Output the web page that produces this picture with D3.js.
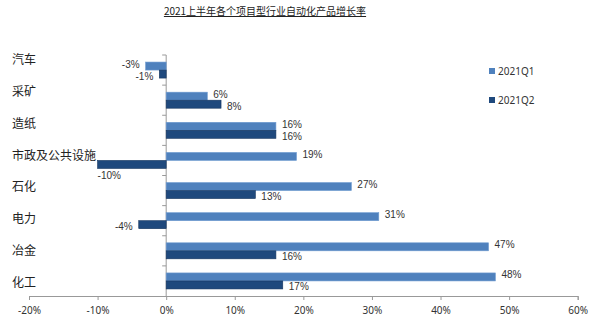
<!DOCTYPE html>
<html><head><meta charset="utf-8">
<script src="https://cdn.jsdelivr.net/npm/d3@7"></script>
<style>body{margin:0;background:#fff}svg{display:block}text{font-family:"Noto Sans CJK SC","Noto Sans",sans-serif}</style>
</head><body><svg id="c" width="600" height="325"></svg>
<script>
const title = "2021上半年各个项目型行业自动化产品增长率";
const categories = ["汽车","采矿","造纸","市政及公共设施","石化","电力","冶金","化工"];
const seriesNames = ["2021Q1","2021Q2"];
const q1 = [-3, 6, 16, 19, 27, 31, 47, 48];
const q2 = [-1, 8, 16, -10, 13, -4, 16, 17];
const xTicks = [-20,-10,0,10,20,30,40,50,60];
const colors = ["#4F81BD","#1F497D"];

const svg = d3.select("#c");
const x = d3.scaleLinear().domain([-20,60]).range([29,577.7]);
const y = d3.scaleBand().domain(categories).range([55,296]).padding(0);
const yi = d3.scaleBand().domain(seriesNames).range([0,y.bandwidth()]).paddingInner(0).paddingOuter(0.88);
const yLab = d3.scalePoint().domain(categories).range([60,282.5]);

svg.append("text").attr("x",265).attr("y",15).attr("text-anchor","middle")
  .attr("font-size",10).attr("fill","#222").style("text-decoration","underline").text(title);

// bottom axis
const xa = svg.append("g").attr("transform","translate(0,296)")
  .call(d3.axisBottom(x).tickValues(xTicks).tickSize(4).tickFormat(d=>d+"%"));
xa.select(".domain").attr("stroke","#999");
xa.selectAll(".tick line").attr("stroke","#999");
xa.selectAll(".tick text").attr("font-size",10).attr("fill","#333").attr("dy","1.1em")
  .style("font-family","'Noto Sans',sans-serif");

// vertical axis at 0
const ya = svg.append("g").attr("transform",`translate(${x(0)},0)`);
ya.append("line").attr("y1",55).attr("y2",296).attr("stroke","#999");
ya.selectAll("line.t").data(categories).join("line").attr("class","t")
  .attr("x1",-4).attr("x2",0).attr("y1",d=>y(d)).attr("y2",d=>y(d)).attr("stroke","#999");

// category labels
svg.selectAll("text.cat").data(categories).join("text").attr("class","cat")
  .attr("x",12).attr("y",d=>yLab(d)).attr("dy","0.35em").attr("font-size",12).attr("fill","#222").text(d=>d);

const series = [q1,q2];
series.forEach((vals,si)=>{
  const name = seriesNames[si];
  const data = categories.map((c,i)=>({c,v:vals[i]}));
  svg.selectAll(null).data(data).join("rect")
    .attr("x",d=>x(Math.min(0,d.v))).attr("width",d=>Math.abs(x(d.v)-x(0)))
    .attr("y",d=>y(d.c)+yi(name)).attr("height",yi.bandwidth())
    .attr("fill",colors[si]).attr("stroke",si===0?"#6f9bd0":"#16365f").attr("stroke-width",0.6);
  const nudge = si===0 ? -2 : 2;
  svg.selectAll(null).data(data).join("text")
    .attr("x",d=> d.v>=0 ? x(d.v)+6 : (d.v<=-10 ? x(d.v) : x(d.v)-6))
    .attr("y",d=> y(d.c)+yi(name)+yi.bandwidth()/2 + (d.v<=-10 ? 11 : nudge))
    .attr("dy","0.35em")
    .attr("text-anchor",d=> d.v>=0 || d.v<=-10 ? "start" : "end")
    .attr("font-size",10).attr("fill","#333").style("font-family","'Liberation Sans',sans-serif")
    .text(d=>d.v+"%");
});

// legend
const lg = svg.selectAll("g.lg").data(seriesNames).join("g").attr("class","lg")
  .attr("transform",(d,i)=>`translate(489,${71+i*29})`);
lg.append("rect").attr("x",0).attr("y",-3).attr("width",6).attr("height",6).attr("fill",(d,i)=>colors[i]);
lg.append("text").attr("x",9).attr("dy","0.35em").attr("font-size",10).attr("fill","#333")
  .style("font-family","'Noto Sans',sans-serif").text(d=>d);
</script></body></html>
